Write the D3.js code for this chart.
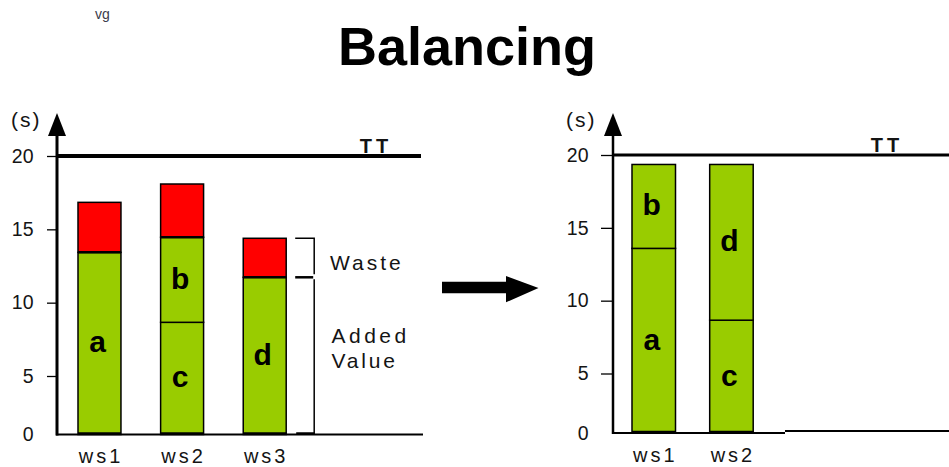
<!DOCTYPE html>
<html>
<head>
<meta charset="utf-8">
<script src="https://cdn.jsdelivr.net/npm/d3@7"></script>
<style>
  html, body { margin: 0; padding: 0; background: #fff; }
  svg { display: block; }
  text { font-family: "Liberation Sans", Arial, sans-serif; }
</style>
</head>
<body>
<svg id="chart" width="949" height="467"></svg>
<script>
// Workstation times (seconds) before balancing
const beforeStations = ["ws1", "ws2", "ws3"];
const beforeTaskNames = [["a"], ["c", "b"], ["d"]];
const beforeTaskTimes = [[13.43], [8.66, 5.8], [11.73]];
const beforeWasteTimes = [3.41, 3.63, 2.66];

// Workstation times (seconds) after balancing
const afterStations = ["ws1", "ws2"];
const afterTaskNames = [["a", "b"], ["c", "d"]];
const afterTaskTimes = [[13.59, 5.76], [8.66, 10.69]];

const yTickValues = [0, 5, 10, 15, 20];
const taktTime = 20;
const taktLabel = "TT";
const unitLabel = "(s)";
const titleText = "Balancing";
const wasteLabel = "Waste";
const valueLabel = ["Added", "Value"];

const GREEN = "#99cc00";
const RED = "#ff0000";
const INK = "#141414";

const svg = d3.select("#chart");

// Title
svg.append("text")
  .attr("x", 467).attr("y", 65)
  .attr("text-anchor", "middle")
  .attr("font-size", 54).attr("font-weight", "bold")
  .attr("fill", "#000")
  .text(titleText);

// small pen mark near the top-left corner
svg.append("text")
  .attr("x", 95).attr("y", 19)
  .attr("font-size", 14).attr("fill", "#3a3a4a")
  .text("vg");

function drawChart(cfg) {
  const g = svg.append("g");
  const y = d3.scaleLinear().domain([0, 5, 20]).range(cfg.yRange);
  const x = d3.scaleBand().domain(cfg.stations).range(cfg.xRange)
    .paddingInner(cfg.padInner).paddingOuter(0);

  // bars: stacked task segments plus waste on top
  cfg.stations.forEach((st, i) => {
    let base = 0;
    cfg.taskTimes[i].forEach((t, j) => {
      const y0 = y(base), y1 = y(base + t);
      g.append("rect")
        .attr("x", x(st)).attr("y", y1)
        .attr("width", x.bandwidth()).attr("height", y0 - y1)
        .attr("fill", GREEN).attr("stroke", "#000").attr("stroke-width", 1.5);
      g.append("text")
        .attr("x", x(st) + x.bandwidth() / 2 - 2)
        .attr("y", (y0 + y1) / 2 + 9)
        .attr("text-anchor", "middle")
        .attr("font-size", 30).attr("font-weight", "bold").attr("fill", "#000")
        .text(cfg.taskNames[i][j]);
      base += t;
    });
    if (cfg.wasteTimes) {
      const w = cfg.wasteTimes[i];
      g.append("rect")
        .attr("x", x(st)).attr("y", y(base + w))
        .attr("width", x.bandwidth()).attr("height", y(base) - y(base + w))
        .attr("fill", RED).attr("stroke", "#000").attr("stroke-width", 1.5);
      g.append("line")
        .attr("x1", x(st)).attr("x2", x(st) + x.bandwidth())
        .attr("y1", y(base)).attr("y2", y(base))
        .attr("stroke", "#000").attr("stroke-width", 2.5);
    }
    // heavier bottom edge
    g.append("line")
      .attr("x1", x(st)).attr("x2", x(st) + x.bandwidth())
      .attr("y1", y(0) - 1).attr("y2", y(0) - 1)
      .attr("stroke", "#000").attr("stroke-width", 2.5);

    // station label
    g.append("text")
      .attr("x", x(st) + x.bandwidth() / 2 + 1.5)
      .attr("y", cfg.catBaseline)
      .attr("text-anchor", "middle")
      .attr("font-size", 20).attr("letter-spacing", 3)
      .attr("fill", INK)
      .text(st);
  });

  // baseline
  cfg.baseline.forEach(seg => {
    g.append("line")
      .attr("x1", seg[0]).attr("x2", seg[1])
      .attr("y1", y(0) - seg[2]).attr("y2", y(0) - seg[2])
      .attr("stroke", "#000").attr("stroke-width", 2);
  });

  // takt time line
  g.append("line")
    .attr("x1", cfg.axisX).attr("x2", cfg.ttEnd)
    .attr("y1", y(taktTime)).attr("y2", y(taktTime))
    .attr("stroke", "#000").attr("stroke-width", cfg.ttWidth);
  g.append("text")
    .attr("x", cfg.ttLabelX).attr("y", y(taktTime) - 3)
    .attr("text-anchor", "middle")
    .attr("font-size", 20).attr("font-weight", "bold").attr("letter-spacing", 4)
    .attr("fill", INK)
    .text(taktLabel);

  // y axis ticks and labels
  const axis = d3.axisLeft(y).tickValues(yTickValues).tickSize(cfg.tickLen)
    .tickFormat(d3.format("d"));
  const ax = g.append("g")
    .attr("transform", `translate(${cfg.axisX},0)`)
    .call(axis);
  ax.select(".domain").remove();
  ax.selectAll(".tick line").attr("stroke", "#000").attr("stroke-width", 1.3)
    .attr("opacity", d => d === 0 ? 0 : 1);
  ax.selectAll(".tick text")
    .attr("font-size", 19.5).attr("fill", INK)
    .attr("font-family", "\"Liberation Sans\", Arial, sans-serif")
    .attr("x", -(cfg.axisX - cfg.tickLabelRight));

  // y axis line with arrow head
  g.append("line")
    .attr("x1", cfg.axisX).attr("x2", cfg.axisX)
    .attr("y1", cfg.arrowTop + 20).attr("y2", y(0) + 1)
    .attr("stroke", "#000").attr("stroke-width", cfg.axisWidth);
  g.append("path")
    .attr("d", `M${cfg.axisX},${cfg.arrowTop} L${cfg.axisX - 9},${cfg.arrowTop + 23} L${cfg.axisX + 9},${cfg.arrowTop + 23} Z`)
    .attr("fill", "#000");
  g.append("text")
    .attr("x", cfg.unitX).attr("y", cfg.arrowTop + 14)
    .attr("font-size", 21).attr("letter-spacing", 2).attr("fill", INK)
    .text(unitLabel);

  return { g, x, y };
}

const left = drawChart({
  stations: beforeStations,
  taskNames: beforeTaskNames,
  taskTimes: beforeTaskTimes,
  wasteTimes: beforeWasteTimes,
  yRange: [434.5, 376, 156],
  xRange: [78, 286.2],
  padInner: 0.48,
  axisX: 57, axisWidth: 3,
  arrowTop: 113,
  ttEnd: 421, ttWidth: 4, ttLabelX: 376,
  baseline: [[56, 423, 0]],
  tickLen: 10, tickLabelRight: 33.5,
  catBaseline: 463,
  unitX: 11
});

const right = drawChart({
  stations: afterStations,
  taskNames: afterTaskNames,
  taskTimes: afterTaskTimes,
  wasteTimes: null,
  yRange: [433, 373.5, 155],
  xRange: [632, 753.2],
  padInner: 0.44,
  axisX: 613, axisWidth: 2.5,
  arrowTop: 113,
  ttEnd: 949, ttWidth: 3, ttLabelX: 887,
  baseline: [[612, 785, 0], [785, 949, 2]],
  tickLen: 12, tickLabelRight: 588.5,
  catBaseline: 461.5,
  unitX: 566
});

// brackets beside ws3: waste on top, added value below
(function () {
  const { g, x, y } = left;
  const st = beforeStations[2];
  const bx = x(st) + x.bandwidth();
  const added = d3.sum(beforeTaskTimes[2]);
  const total = added + beforeWasteTimes[2];
  const xr = bx + 28, xl = bx + 9;
  g.append("path")
    .attr("d", `M${xl},${y(total)} H${xr} V${y(added) - 3}`)
    .attr("fill", "none").attr("stroke", "#000").attr("stroke-width", 1.5);
  g.append("path")
    .attr("d", `M${xr},${y(added) + 2} V${y(0)}`)
    .attr("fill", "none").attr("stroke", "#000").attr("stroke-width", 1.5);
  g.append("line")
    .attr("x1", xl).attr("x2", xr - 1).attr("y1", y(added)).attr("y2", y(added))
    .attr("stroke", "#000").attr("stroke-width", 2.5);
  g.append("line")
    .attr("x1", xl + 1).attr("x2", xr).attr("y1", y(0) - 1).attr("y2", y(0) - 1)
    .attr("stroke", "#000").attr("stroke-width", 2.5);

  g.append("text")
    .attr("x", 330).attr("y", 270)
    .attr("font-size", 21).attr("letter-spacing", 3).attr("fill", INK)
    .text(wasteLabel);
  valueLabel.forEach((t, i) => {
    g.append("text")
      .attr("x", 331.5).attr("y", 343.3 + i * 25)
      .attr("font-size", 21).attr("letter-spacing", i === 0 ? 3.5 : 2.8).attr("fill", INK)
      .text(t);
  });
})();

// transition arrow between the two charts
svg.append("path")
  .attr("d", "M442,281.7 H506 V276 L538.5,288 L506,302.3 V293.3 H442 Z")
  .attr("fill", "#000");
</script>
</body>
</html>
